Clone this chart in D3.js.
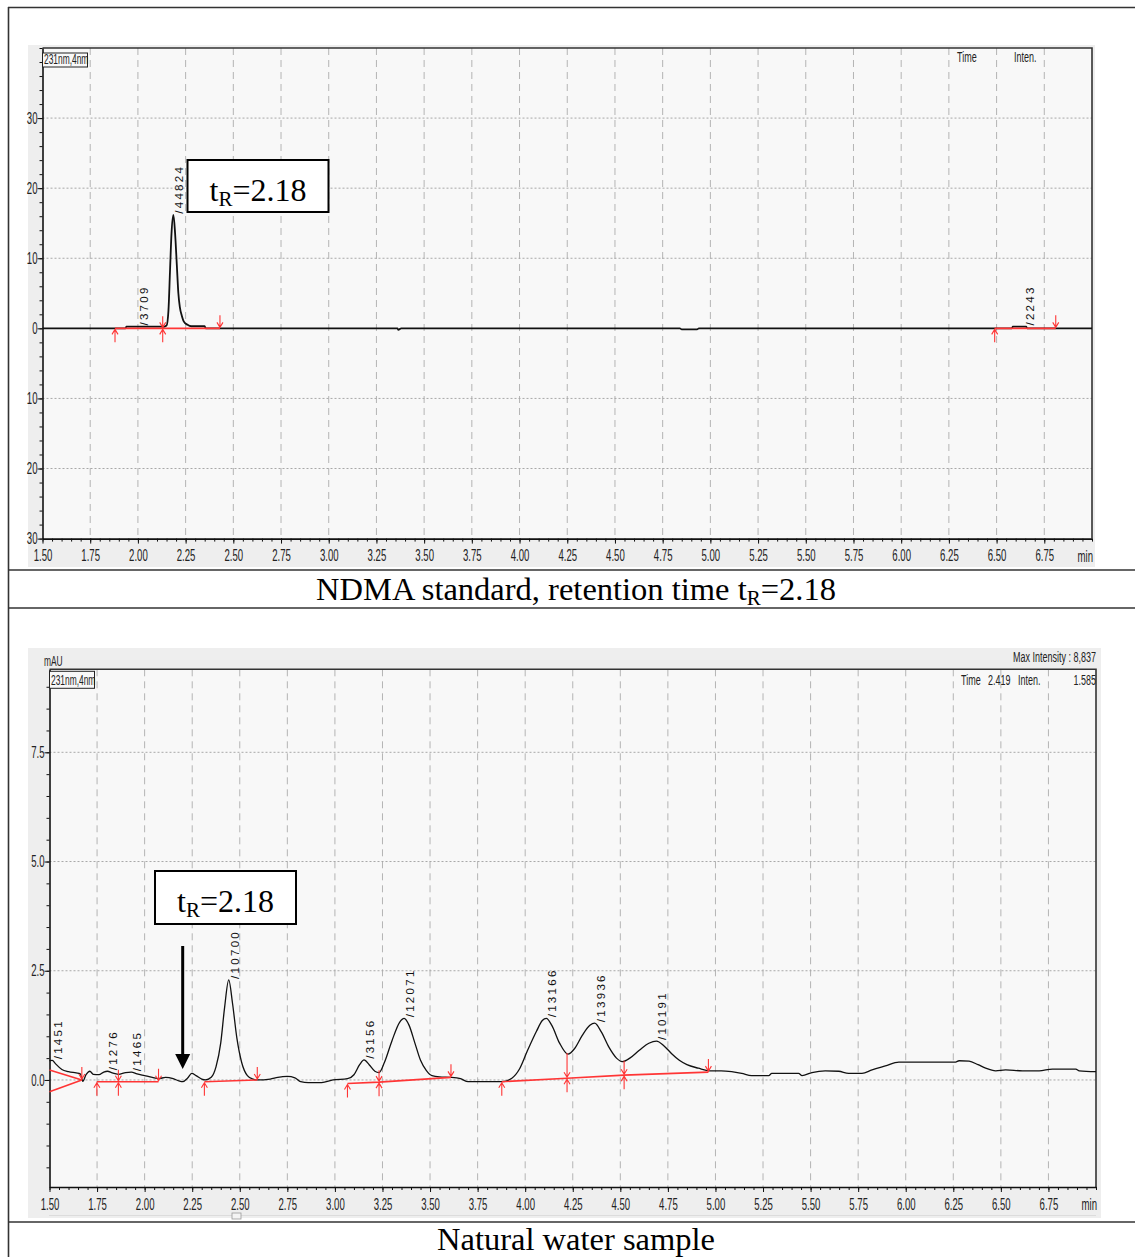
<!DOCTYPE html>
<html>
<head>
<meta charset="utf-8">
<script src="https://cdn.jsdelivr.net/npm/d3@7"></script>
<style>
  body { margin: 0; background: #fff; }
  svg { display: block; }
</style>
</head>
<body>
<svg id="fig" width="1135" height="1257"></svg>
<script>
// ---------- NDMA standard chromatogram (mAU vs. min) ----------
const stdTime = [1.50,1.935,1.94,2.125,2.13,2.15,2.16,2.168,2.176,2.186,2.195,2.204,2.212,2.22,2.23,2.24,2.26,2.28,2.35,2.355,3.36,3.365,3.38,4.84,4.85,4.93,4.94,6.58,6.585,6.655,6.66,7.00];
const stdSignal = [0,0,0.25,0.25,0.2,0.4,2.5,8,13.5,16.2,13.5,9,5,3,1.8,1.0,0.5,0.3,0.3,0,0,-0.2,0,0,-0.15,-0.15,0,0,0.25,0.25,0,0];
const stdPeakTimes = [2.00, 2.186, 6.644];
const stdPeakAreas = ["3709", "44824", "2243"];
const stdEventTimes = [1.88, 2.13, 2.43, 6.49, 6.81];
const stdEventKinds = ["start", "split", "end", "start", "end"];
const stdBaselines = [[[1.88, 0], [2.43, 0]], [[6.49, 0], [6.81, 0]]];
const stdSignalTicks = [-30, -20, -10, 0, 10, 20, 30];

// ---------- Natural water sample chromatogram ----------
const sampleTime = [
  1.500,1.515,1.530,1.565,1.600,1.640,1.662,1.675,1.692,1.712,
  1.730,1.760,1.785,1.805,1.830,1.862,1.900,1.930,1.960,2.000,
  2.040,2.073,2.110,2.150,2.180,2.200,2.225,2.248,2.270,2.300,
  2.320,2.350,2.375,2.400,2.420,2.442,2.462,2.485,2.510,2.540,
  2.570,2.592,2.660,2.700,2.750,2.790,2.820,2.860,2.930,2.990,
  3.066,3.100,3.130,3.153,3.180,3.210,3.232,3.260,3.300,3.340,
  3.364,3.390,3.420,3.450,3.480,3.510,3.550,3.610,3.660,3.700,
  3.800,3.877,3.930,3.970,4.010,4.060,4.090,4.111,4.140,4.180,
  4.225,4.260,4.300,4.340,4.365,4.400,4.440,4.480,4.510,4.550,
  4.600,4.650,4.690,4.730,4.770,4.810,4.850,4.910,4.970,5.030,
  5.085,5.138,5.190,5.280,5.296,5.437,5.455,5.507,5.577,5.648,
  5.700,5.770,5.823,5.893,5.964,6.262,6.280,6.333,6.380,6.420,
  6.473,6.525,6.613,6.701,6.771,6.894,6.912,7.000];
const sampleSignal = [
  0.44,0.45,0.38,0.24,0.19,0.16,0.14,-0.03,0.12,0.20,
  0.13,0.12,0.18,0.20,0.16,0.13,0.17,0.18,0.14,0.10,
  0.06,0.03,0.06,0.03,-0.02,-0.04,0.04,0.15,0.10,0.02,
  0.00,0.06,0.30,0.85,1.65,2.29,1.75,0.95,0.40,0.10,
  0.02,0.00,0.02,0.06,0.08,0.05,-0.04,-0.06,-0.06,0.00,
  0.03,0.12,0.35,0.46,0.35,0.20,0.17,0.40,0.90,1.32,
  1.41,1.25,0.85,0.45,0.22,0.10,0.07,0.06,0.03,-0.04,
  -0.04,-0.04,0.04,0.25,0.65,1.12,1.36,1.41,1.25,0.85,
  0.59,0.72,1.02,1.25,1.30,1.10,0.75,0.50,0.42,0.50,
  0.68,0.84,0.89,0.78,0.60,0.45,0.35,0.27,0.21,0.21,
  0.19,0.15,0.10,0.10,0.15,0.15,0.10,0.17,0.21,0.20,
  0.15,0.15,0.23,0.32,0.41,0.41,0.44,0.43,0.35,0.27,
  0.21,0.23,0.21,0.21,0.25,0.25,0.21,0.19];
const samplePeakTimes = [1.513, 1.802, 1.927, 2.442, 3.153, 3.364, 4.111, 4.365, 4.690];
const samplePeakAreas = ["1451", "1276", "1465", "10700", "3156", "12071", "13166", "13936", "10191"];
const sampleEventTimes = [1.67, 1.749, 1.862, 2.073, 2.314, 2.592, 3.066, 3.232, 3.61, 3.877, 4.22, 4.52, 4.963];
const sampleEventKinds = ["end", "start", "split", "end", "start", "end", "start", "split", "end", "start", "split", "split", "end"];
const sampleBaselines = [
  [[1.5, 0.23], [1.67, 0]],
  [[1.5, -0.27], [1.67, 0]],
  [[1.749, -0.04], [2.073, -0.04]],
  [[2.314, -0.04], [2.592, 0]],
  [[3.066, -0.08], [3.232, -0.05], [3.61, 0.06]],
  [[3.877, -0.04], [4.22, 0.04], [4.52, 0.11], [4.963, 0.18]]];
const sampleSignalTicks = [0, 2.5, 5.0, 7.5];

// shared time axis
const timeTicks = [1.50,1.75,2.00,2.25,2.50,2.75,3.00,3.25,3.50,3.75,4.00,4.25,4.50,4.75,5.00,5.25,5.50,5.75,6.00,6.25,6.50,6.75];
const timeUnit = "min";

// ---------- drawing ----------
const SX = 0.6;                        // horizontal squeeze for the instrument-style lettering
const NARROW = "'Liberation Sans', Arial, sans-serif";
const SERIF = "'Liberation Serif', 'Times New Roman', serif";
const RED = "#ff3535";
const svg = d3.select("#fig");

function narrowText(g, x, y, str, anchor, size) {
  return g.append("text")
    .attr("transform", `translate(${x},${y}) scale(${SX},1)`)
    .attr("text-anchor", anchor || "start")
    .attr("font-family", NARROW)
    .attr("font-size", size || 14)
    .attr("fill", "#222")
    .text(str);
}

function drawChart(o) {
  const { x, y, time, signal } = o;
  const [x0, x1] = x.range();
  const [yb, yt] = y.range();
  const g = svg.append("g");

  // instrument window panel and plot area
  g.append("rect").attr("x", o.panel[0]).attr("y", o.panel[1])
    .attr("width", o.panel[2] - o.panel[0]).attr("height", o.panel[3] - o.panel[1])
    .attr("fill", "#eeeeee");
  g.append("rect").attr("x", x0).attr("y", yt).attr("width", x1 - x0).attr("height", yb - yt)
    .attr("fill", "#f8f8f8");

  // grid
  g.append("g").selectAll("line").data(timeTicks.filter(t => t > 1.5))
    .join("line")
    .attr("x1", d => x(d)).attr("x2", d => x(d)).attr("y1", yt).attr("y2", yb)
    .attr("stroke", "#b4b4b4").attr("stroke-dasharray", "7,5");
  g.append("g").selectAll("line").data(o.yGrid)
    .join("line")
    .attr("x1", x0).attr("x2", x1).attr("y1", d => y(d)).attr("y2", d => y(d))
    .attr("stroke", "#a8a8a8").attr("stroke-dasharray", "2,2");

  // frame: top and right
  g.append("path").attr("d", `M${x0},${yt}H${x1}V${yb}`)
    .attr("fill", "none").attr("stroke", "#333").attr("stroke-width", 1.6);

  // time axis
  const minor = d3.range(150, 701, 5).map(v => v / 100);
  g.append("g").attr("transform", `translate(0,${yb})`)
    .call(d3.axisBottom(x).tickValues(minor).tickSize(3).tickSizeOuter(0).tickFormat(""))
    .call(a => a.selectAll("line").attr("stroke", "#111"))
    .call(a => a.select(".domain").remove());
  const xa = g.append("g").attr("transform", `translate(0,${yb})`)
    .call(d3.axisBottom(x).tickValues(timeTicks).tickSize(5).tickSizeOuter(0).tickFormat(d3.format(".2f")))
    .attr("font-family", NARROW).attr("font-size", 16);
  xa.select(".domain").attr("stroke", "#111").attr("stroke-width", 1.6);
  xa.selectAll("line").attr("stroke", "#111");
  xa.selectAll("text").attr("fill", "#222").attr("y", 11.5).attr("transform", `scale(${SX},1)`);
  narrowText(g, x1 + 1, yb + 23, timeUnit, "end", 16);

  // signal axis
  g.append("g").attr("transform", `translate(${x0},0)`)
    .call(d3.axisLeft(y).tickValues(o.yMinor).tickSize(3).tickSizeOuter(0).tickFormat(""))
    .call(a => a.selectAll("line").attr("stroke", "#111"))
    .call(a => a.select(".domain").remove());
  const ya = g.append("g").attr("transform", `translate(${x0},0)`)
    .call(d3.axisLeft(y).tickValues(o.yTicks).tickSize(5).tickSizeOuter(0).tickFormat(o.yFormat))
    .attr("font-family", NARROW).attr("font-size", 16);
  ya.select(".domain").attr("stroke", "#111").attr("stroke-width", 1.6);
  ya.selectAll("line").attr("stroke", "#111");
  ya.selectAll("text").attr("fill", "#222").attr("x", -5 / SX).attr("transform", `scale(${SX},1)`);

  // chromatogram trace
  const pts = time.map((t, i) => [t, signal[i]]);
  const line = d3.line().x(d => x(d[0])).y(d => y(d[1])).curve(d3.curveMonotoneX);
  g.append("path").datum(pts).attr("d", line)
    .attr("fill", "none").attr("stroke", "#111").attr("stroke-width", o.traceWidth);

  // integration baselines
  const lin = d3.line().x(d => x(d[0])).y(d => y(d[1]));
  g.append("g").selectAll("path").data(o.baselines).join("path")
    .attr("d", lin).attr("fill", "none").attr("stroke", RED).attr("stroke-width", 1.6);

  const bis = d3.bisector(d => d).left;
  const valueAt = t => {
    const i = Math.min(Math.max(bis(time, t), 1), time.length - 1);
    const a = time[i - 1], b = time[i];
    return signal[i - 1] + (signal[i] - signal[i - 1]) * (t - a) / (b - a);
  };
  const baseAt = t => {
    for (const seg of o.baselines) {
      if (t >= seg[0][0] - 0.003 && t <= seg[seg.length - 1][0] + 0.003) {
        for (let k = 1; k < seg.length; k++) {
          if (t <= seg[k][0] + 0.003) {
            const [ta, va] = seg[k - 1], [tb, vb] = seg[k];
            const f = Math.max(0, Math.min(1, (t - ta) / (tb - ta)));
            return va + (vb - va) * f;
          }
        }
      }
    }
    return 0;
  };

  // peak start / end / split markers
  const ev = g.append("g").attr("stroke", RED).attr("stroke-width", 1.1).attr("fill", "none");
  const upArrow = (px, py) => ev.append("path")
    .attr("d", `M${px},${py + 14}V${py + 1}M${px - 3},${py + 6}L${px},${py + 1}L${px + 3},${py + 6}`);
  const downArrow = (px, top, py) => ev.append("path")
    .attr("d", `M${px},${top}V${py - 1}M${px - 3},${py - 6}L${px},${py - 1}L${px + 3},${py - 6}`);
  o.evTimes.forEach((t, i) => {
    const kind = o.evKinds[i];
    const px = x(t), py = y(baseAt(t));
    if (kind === "start") upArrow(px, py);
    else if (kind === "end") downArrow(px, py - 13, py);
    else {
      downArrow(px, Math.min(y(valueAt(t)), py - 12), py);
      upArrow(px, py);
    }
  });

  // peak area labels
  g.append("g").selectAll("text").data(o.pkTimes).join("text")
    .attr("transform", d => `translate(${x(d) + 10},${y(valueAt(d)) - 1}) rotate(-90)`)
    .attr("font-family", NARROW).attr("font-size", 11.5).attr("letter-spacing", 2.3)
    .attr("fill", "#111")
    .text((d, i) => "/" + o.pkAreas[i]);

  // detector channel box
  const ch = g.append("g");
  ch.append("rect").attr("x", x0).attr("y", yt + o.chBox[0]).attr("width", 45).attr("height", o.chBox[1])
    .attr("fill", "#f8f8f8").attr("stroke", "#222").attr("stroke-width", 1);
  narrowText(ch, x0 + 1.5, yt + o.chBox[0] + o.chBox[1] - 3, "231nm,4nm", "start", 14);
  return g;
}

function retentionBox(x, y, w, h, baseline) {
  const g = svg.append("g");
  g.append("rect").attr("x", x).attr("y", y).attr("width", w).attr("height", h)
    .attr("fill", "#fff").attr("stroke", "#000").attr("stroke-width", 2);
  const t = g.append("text").attr("x", x + w / 2).attr("y", baseline)
    .attr("text-anchor", "middle").attr("font-family", SERIF).attr("font-size", 32).attr("fill", "#000");
  t.append("tspan").text("t");
  t.append("tspan").attr("font-size", 21).attr("dy", 5).text("R");
  t.append("tspan").attr("dy", -5).text("=2.18");
}

// outer table frame
const frame = svg.append("g").attr("stroke", "#333").attr("stroke-width", 1.6);
frame.append("line").attr("x1", 8).attr("x2", 1135).attr("y1", 7.5).attr("y2", 7.5);
frame.append("line").attr("x1", 8.5).attr("x2", 8.5).attr("y1", 7).attr("y2", 1257);
[570, 608, 1222].forEach(v => frame.append("line").attr("x1", 8).attr("x2", 1135).attr("y1", v).attr("y2", v));

// top: standard
const xStd = d3.scaleLinear([1.5, 7.0], [42.5, 1092]);
const yStd = d3.scaleLinear([-30, 40], [538.6, 48]);
const gStd = drawChart({
  x: xStd, y: yStd, time: stdTime, signal: stdSignal,
  panel: [28, 45, 1095, 567],
  yGrid: [-20, -10, 10, 20, 30], yTicks: stdSignalTicks,
  yMinor: d3.range(-30, 41, 2), yFormat: d => Math.abs(d),
  baselines: stdBaselines, evTimes: stdEventTimes, evKinds: stdEventKinds,
  pkTimes: stdPeakTimes, pkAreas: stdPeakAreas, traceWidth: 1.8, chBox: [5, 14]
});
narrowText(gStd, 957, 62, "Time", "start", 15);
narrowText(gStd, 1014, 62, "Inten.", "start", 15);
retentionBox(187.5, 160, 141, 52, 201);

// bottom: natural water
const xSmp = d3.scaleLinear([1.5, 7.0], [49.5, 1096]);
const ySmp = d3.scaleLinear([-2.45, 9.4], [1187, 669.3]);
const gSmp = drawChart({
  x: xSmp, y: ySmp, time: sampleTime, signal: sampleSignal,
  panel: [28, 648, 1101, 1218],
  yGrid: [0, 2.5, 5.0, 7.5], yTicks: sampleSignalTicks,
  yMinor: d3.range(-4, 19).map(v => v / 2), yFormat: d3.format(".1f"),
  baselines: sampleBaselines, evTimes: sampleEventTimes, evKinds: sampleEventKinds,
  pkTimes: samplePeakTimes, pkAreas: samplePeakAreas, traceWidth: 1.3, chBox: [2, 17]
});
narrowText(gSmp, 44, 666, "mAU", "start", 14);
narrowText(gSmp, 1096, 662, "Max Intensity :  8,837", "end", 15);
narrowText(gSmp, 961, 685, "Time", "start", 15);
narrowText(gSmp, 988, 685, "2.419", "start", 15);
narrowText(gSmp, 1018, 685, "Inten.", "start", 15);
narrowText(gSmp, 1096, 685, "1.585", "end", 15);
// scrollbar strip under the time axis
gSmp.append("line").attr("x1", 49).attr("x2", 1096).attr("y1", 1215.5).attr("y2", 1215.5).attr("stroke", "#dcdcdc");
gSmp.append("rect").attr("x", 232).attr("y", 1213).attr("width", 9).attr("height", 6)
  .attr("fill", "#f4f4f4").attr("stroke", "#999").attr("stroke-width", 0.8);
retentionBox(155, 871, 141, 53, 912);

// arrow marking the expected NDMA retention time
const arrowX = xSmp(2.2);
svg.append("line").attr("x1", arrowX).attr("x2", arrowX).attr("y1", 946).attr("y2", 1056)
  .attr("stroke", "#000").attr("stroke-width", 3);
svg.append("path").attr("d", `M${arrowX - 7.5},1054L${arrowX + 7.5},1054L${arrowX},1069Z`).attr("fill", "#000");

// captions
const cap1 = svg.append("text").attr("x", 576).attr("y", 600).attr("text-anchor", "middle")
  .attr("font-family", SERIF).attr("font-size", 32.5).attr("fill", "#000");
cap1.append("tspan").text("NDMA standard, retention time t");
cap1.append("tspan").attr("font-size", 21).attr("dy", 5).text("R");
cap1.append("tspan").attr("dy", -5).text("=2.18");
svg.append("text").attr("x", 576).attr("y", 1250).attr("text-anchor", "middle")
  .attr("font-family", SERIF).attr("font-size", 32.5).attr("fill", "#000")
  .text("Natural water sample");
</script>
</body>
</html>
